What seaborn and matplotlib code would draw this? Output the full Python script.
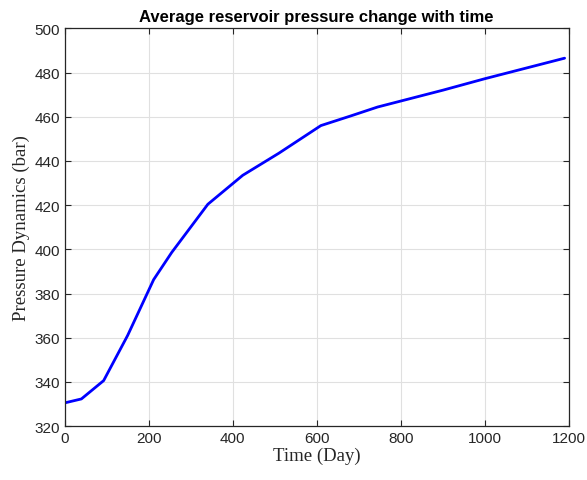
import matplotlib
matplotlib.use("Agg")
import matplotlib.pyplot as plt
import seaborn as sns
import pandas as pd

days = [0, 40, 93, 150, 212, 255, 341, 424, 510, 610, 680, 745, 900, 1000, 1190]
pressure = [330.5, 332.3, 340.6, 361.0, 386.3, 398.6, 420.4, 433.5, 443.5, 456.0, 460.3, 464.4, 472.0, 477.2, 486.5]
x_ticks = [0, 200, 400, 600, 800, 1000, 1200]
y_ticks = [320, 340, 360, 380, 400, 420, 440, 460, 480, 500]

sns.set_theme(style="whitegrid")
plt.rcParams['font.family'] = ['Liberation Sans', 'DejaVu Sans']

df = pd.DataFrame({"Time": days, "Pressure": pressure})

fig = plt.figure(figsize=(5.87, 4.81), dpi=100)
ax = fig.add_axes([0.110, 0.112, 0.859, 0.827])
sns.lineplot(data=df, x="Time", y="Pressure", color="#0000ff", linewidth=2.0, ax=ax)

ax.set_xlim(0, 1200)
ax.set_ylim(320, 500)
ax.set_xticks(x_ticks)
ax.set_yticks(y_ticks)
ax.grid(True, color="#e0e0e0", linewidth=0.8)
for s in ax.spines.values():
    s.set_color("#262626")
    s.set_linewidth(0.9)
    s.set_visible(True)
ax.tick_params(direction="in", length=4, width=0.8, colors="#262626", labelsize=11,
               top=True, right=True, bottom=True, left=True, labelcolor="#262626")
ax.set_xlabel("Time (Day)", fontfamily="Liberation Serif", fontsize=13.5, color="#262626", labelpad=1)
ax.set_ylabel("Pressure Dynamics (bar)", fontfamily="Liberation Serif", fontsize=13.5, color="#262626", labelpad=3)
ax.set_title("Average reservoir pressure change with time", fontsize=12, fontweight="bold", color="#000000", pad=5)

fig.savefig("out.png", dpi=100)
